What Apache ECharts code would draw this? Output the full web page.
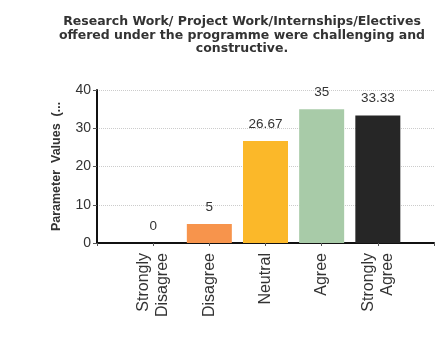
<!DOCTYPE html>
<html><head><meta charset="utf-8">
<script src="https://cdn.jsdelivr.net/npm/echarts@6/dist/echarts.min.js"></script>
<style>html,body{margin:0;padding:0;background:#fff}#c{width:448px;height:351px}</style>
</head><body><div id="c"></div>
<script>
const categories = ['Strongly\nDisagree', 'Disagree', 'Neutral', 'Agree', 'Strongly\nAgree'];
const values = [0, 5, 26.67, 35, 33.33];
const barColors = ['#e0443a', '#f7944c', '#fbb829', '#a8cba8', '#262626'];
const yTicks = [0, 10, 20, 30, 40];

const chart = echarts.init(document.getElementById('c'), null, {renderer: 'canvas'});
chart.setOption({
  backgroundColor: '#fff',
  animation: false,
  title: {
    text: 'Research Work/ Project Work/Internships/Electives\noffered under the programme were challenging and\nconstructive.',
    left: 237, top: 10, textAlign: 'center',
    textStyle: {fontFamily: 'DejaVu Sans', fontWeight: 'bold', fontSize: 12.5, color: '#333', lineHeight: 13.5}
  },
  grid: {left: 97, right: 14, top: 90, bottom: 108, containLabel: false},
  xAxis: {
    type: 'value', min: 0, max: categories.length + 1, interval: 1,
    axisLine: {show: true, lineStyle: {color: '#111', width: 2}},
    axisTick: {show: true, length: 3, lineStyle: {color: '#555'}},
    splitLine: {show: false},
    axisLabel: {
      rotate: 90, fontFamily: 'Liberation Sans', fontSize: 16, color: '#333', margin: 10, lineHeight: 19,
      formatter: v => (v >= 1 && v <= categories.length) ? categories[v - 1] : ''
    }
  },
  yAxis: {
    type: 'value', min: yTicks[0], max: yTicks[yTicks.length - 1], interval: 10,
    name: 'Parameter  Values  (...', nameLocation: 'middle', nameGap: 34, nameRotate: 90,
    nameTextStyle: {fontFamily: 'Liberation Sans', fontWeight: 'bold', fontSize: 12.5, color: '#333'},
    axisLine: {show: true, lineStyle: {color: '#111', width: 2}},
    axisTick: {show: true, length: 4, lineStyle: {color: '#555'}},
    axisLabel: {fontFamily: 'Liberation Sans', fontSize: 14, color: '#333', margin: 6},
    splitLine: {show: true, lineStyle: {color: '#ccc', type: 'dotted'}}
  },
  series: [{
    type: 'bar', barWidth: 45,
    data: values.map((v, i) => ({value: [i + 1, v], itemStyle: {color: barColors[i]}})),
    label: {show: true, position: 'top', distance: 10, fontFamily: 'Liberation Sans', fontSize: 13.5, color: '#333',
      formatter: p => String(p.value[1])}
  }]
});
</script></body></html>
